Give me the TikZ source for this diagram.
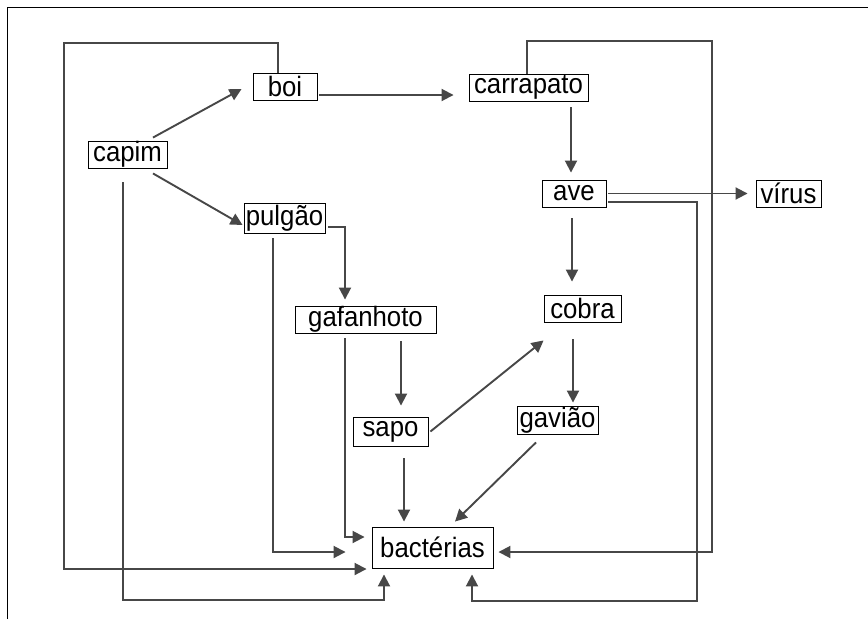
\documentclass[tikz,border=0pt]{standalone}
\usepackage{fontspec}
\setmainfont{Liberation Sans}[FakeStretch=0.92]
\usetikzlibrary{arrows.meta,calc}
\begin{document}
\begin{tikzpicture}[x=1pt,y=-1pt,
  box/.style={draw=black,line width=0.9pt,inner sep=0pt,fill=white,font=\fontsize{28}{30}\selectfont},
  link/.style={draw=black!72,line width=1.9pt},
  arr/.style={link,-{Triangle[length=12pt,width=12pt]}}]
\useasboundingbox (0,0) rectangle (868,619);
\draw[line width=1pt] (7,619) -- (7,7) -- (868,7);
% nodes
\node[box,minimum width=79pt,minimum height=27pt] (capim) at (127.5,154.5) {capim};
\node[box,minimum width=64pt,minimum height=27pt] (boi) at (285,86.5) {boi};
\node[box,minimum width=119pt,minimum height=27pt] (carrapato) at (528.5,87.5) {carrapato};
\node[box,minimum width=81pt,minimum height=30pt] (pulgao) at (284.5,218) {pulgão};
\node[box,minimum width=64pt,minimum height=27pt] (ave) at (574,193.5) {ave};
\node[box,minimum width=65pt,minimum height=27pt] (virus) at (788.5,193.5) {vírus};
\node[box,minimum width=141pt,minimum height=27pt] (gafanhoto) at (365.5,319.5) {gafanhoto};
\node[box,minimum width=77pt,minimum height=27pt] (cobra) at (582.5,308.5) {cobra};
\node[box,minimum width=75pt,minimum height=29pt] (sapo) at (390.5,431.5) {sapo};
\node[box,minimum width=81pt,minimum height=28pt] (gaviao) at (557.5,420) {gavião};
\node[box,minimum width=121pt,minimum height=41pt] (bact) at (432.5,547.5) {bactérias};
% connectors
\draw[arr] ($(capim.north)+(25.5,-3)$) -- ($(boi.west)+(-11,2.5)$);
\draw[arr] ($(capim.south)+(25.5,5)$) -- ($(pulgao.west)+(-1,7)$);
\draw[arr] ($(capim.south)+(-4.5,14)$) -- (123,600) -- (384,600) -- ($(bact.south)+(-48.5,6)$);
\draw[arr] ($(boi.north)+(-7,0)$) -- (278,43) -- (64,43) -- (64,569) -- ($(bact.west)+(-5,21.5)$);
\draw[arr] ($(boi.east)+(2,8.5)$) -- ($(carrapato.west)+(-15,7.5)$);
\draw[arr] ($(carrapato.north)+(-1.5,0)$) -- (527,41) -- (712,41) -- (712,552) -- ($(bact.east)+(5,4.5)$);
\draw[arr] ($(carrapato.south)+(42.5,6)$) -- ($(ave.north)+(-3,-7)$);
\draw[arr] ($(pulgao.east)+(3,9)$) -- (345,227) -- ($(gafanhoto.north)+(-20.5,-6)$);
\draw[arr] ($(pulgao.south)+(-11.5,5)$) -- (273,552) -- ($(bact.west)+(-26,4.5)$);
\draw[arr] ($(gafanhoto.south)+(-20.5,5)$) -- (345,537) -- ($(bact.west)+(-7,-10.5)$);
\draw[arr] ($(gafanhoto.south)+(35.5,8)$) -- ($(sapo.north)+(10.5,-11)$);
\draw[arr] ($(sapo.south)+(13.5,12)$) -- ($(bact.north)+(-28.5,-5)$);
\draw[arr] ($(sapo.east)+(2,0)$) -- ($(cobra.south west)+(0,18)$);
\draw[arr] ($(ave.east)+(2,0)$) -- ($(virus.west)+(-8,0)$);
\draw[arr] ($(ave.east)+(2,8.5)$) -- (697,202) -- (697,601) -- (472,601) -- ($(bact.south)+(39.5,6)$);
\draw[arr] ($(ave.south)+(-2,11)$) -- ($(cobra.north)+(-10.5,-13)$);
\draw[arr] ($(cobra.south)+(-9.5,17)$) -- ($(gaviao.north)+(15.5,-3)$);
\draw[arr] ($(gaviao.south)+(-21.5,8)$) -- ($(bact.north)+(22.5,-5)$);
\end{tikzpicture}
\end{document}
